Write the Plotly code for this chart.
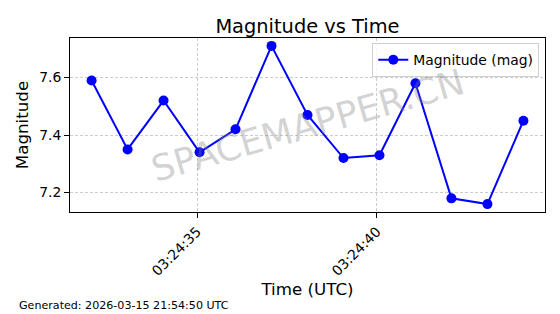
import plotly.graph_objects as go
import pandas as pd

times = pd.to_datetime("2026-03-15 03:24:32.07") + pd.to_timedelta(list(range(13)), unit="s")
magnitudes = [7.59, 7.35, 7.52, 7.34, 7.42, 7.71, 7.47, 7.32, 7.33, 7.58, 7.18, 7.16, 7.45]
series_name = "Magnitude (mag)"
title = "Magnitude vs Time"
x_title = "Time (UTC)"
y_title = "Magnitude"
footer = "Generated: 2026-03-15 21:54:50 UTC"
watermark = "SPACEMAPPER.CN"

font = "DejaVu Sans"
fig = go.Figure()
fig.add_trace(go.Scatter(
    x=times, y=magnitudes, mode="lines+markers", name=series_name,
    line=dict(color="#0000ff", width=2),
    marker=dict(color="#0000ff", size=10),
))

xmin = times[0] - pd.Timedelta(seconds=0.6)
xmax = times[-1] + pd.Timedelta(seconds=0.6)
span = max(magnitudes) - min(magnitudes)
ymin = min(magnitudes) - 0.05 * span
ymax = max(magnitudes) + 0.05 * span

axis_common = dict(
    showline=True, linecolor="black", linewidth=1, mirror=True,
    ticks="outside", ticklen=5, tickcolor="black", tickwidth=1,
    showgrid=True, gridcolor="#cccccc", griddash="3px,2px", gridwidth=0.8,
    zeroline=False, tickfont=dict(family=font, size=13.9, color="black"),
)

fig.update_layout(
    width=560, height=314,
    margin=dict(l=70, r=15, t=38, b=102),
    paper_bgcolor="white", plot_bgcolor="white",
    font=dict(family=font, color="black"),
    title=dict(text=title, x=0.549, xanchor="center", y=0.915, yanchor="middle",
               font=dict(family=font, size=19.4, color="black")),
    xaxis=dict(axis_common, range=[xmin, xmax], tickformat="%H:%M:%S", dtick=5000,
               tick0="2026-03-15 03:24:35", tickangle=-45,
               title=dict(text=x_title, font=dict(family=font, size=16.7), standoff=5)),
    yaxis=dict(axis_common, range=[ymin, ymax], dtick=0.2, tickformat=".1f",
               title=dict(text=y_title, font=dict(family=font, size=16.7), standoff=6)),
    legend=dict(x=0.988, y=0.97, xanchor="right", yanchor="top",
                bgcolor="rgba(255,255,255,0.8)", bordercolor="#d0d0d0", borderwidth=1,
                font=dict(family=font, size=13.9, color="black")),
    showlegend=True,
)

fig.add_annotation(text=watermark, xref="paper", yref="paper", x=0.5, y=0.5,
                   showarrow=False, textangle=-16,
                   font=dict(family=font, size=36, color="rgba(128,128,128,0.35)"))
fig.add_annotation(text=footer, xref="paper", yref="paper",
                   x=(17 - 70) / 475, y=(212 - 305) / 174,
                   xanchor="left", yanchor="middle", showarrow=False,
                   font=dict(family=font, size=11.1, color="black"))

fig.write_html("out.html")
